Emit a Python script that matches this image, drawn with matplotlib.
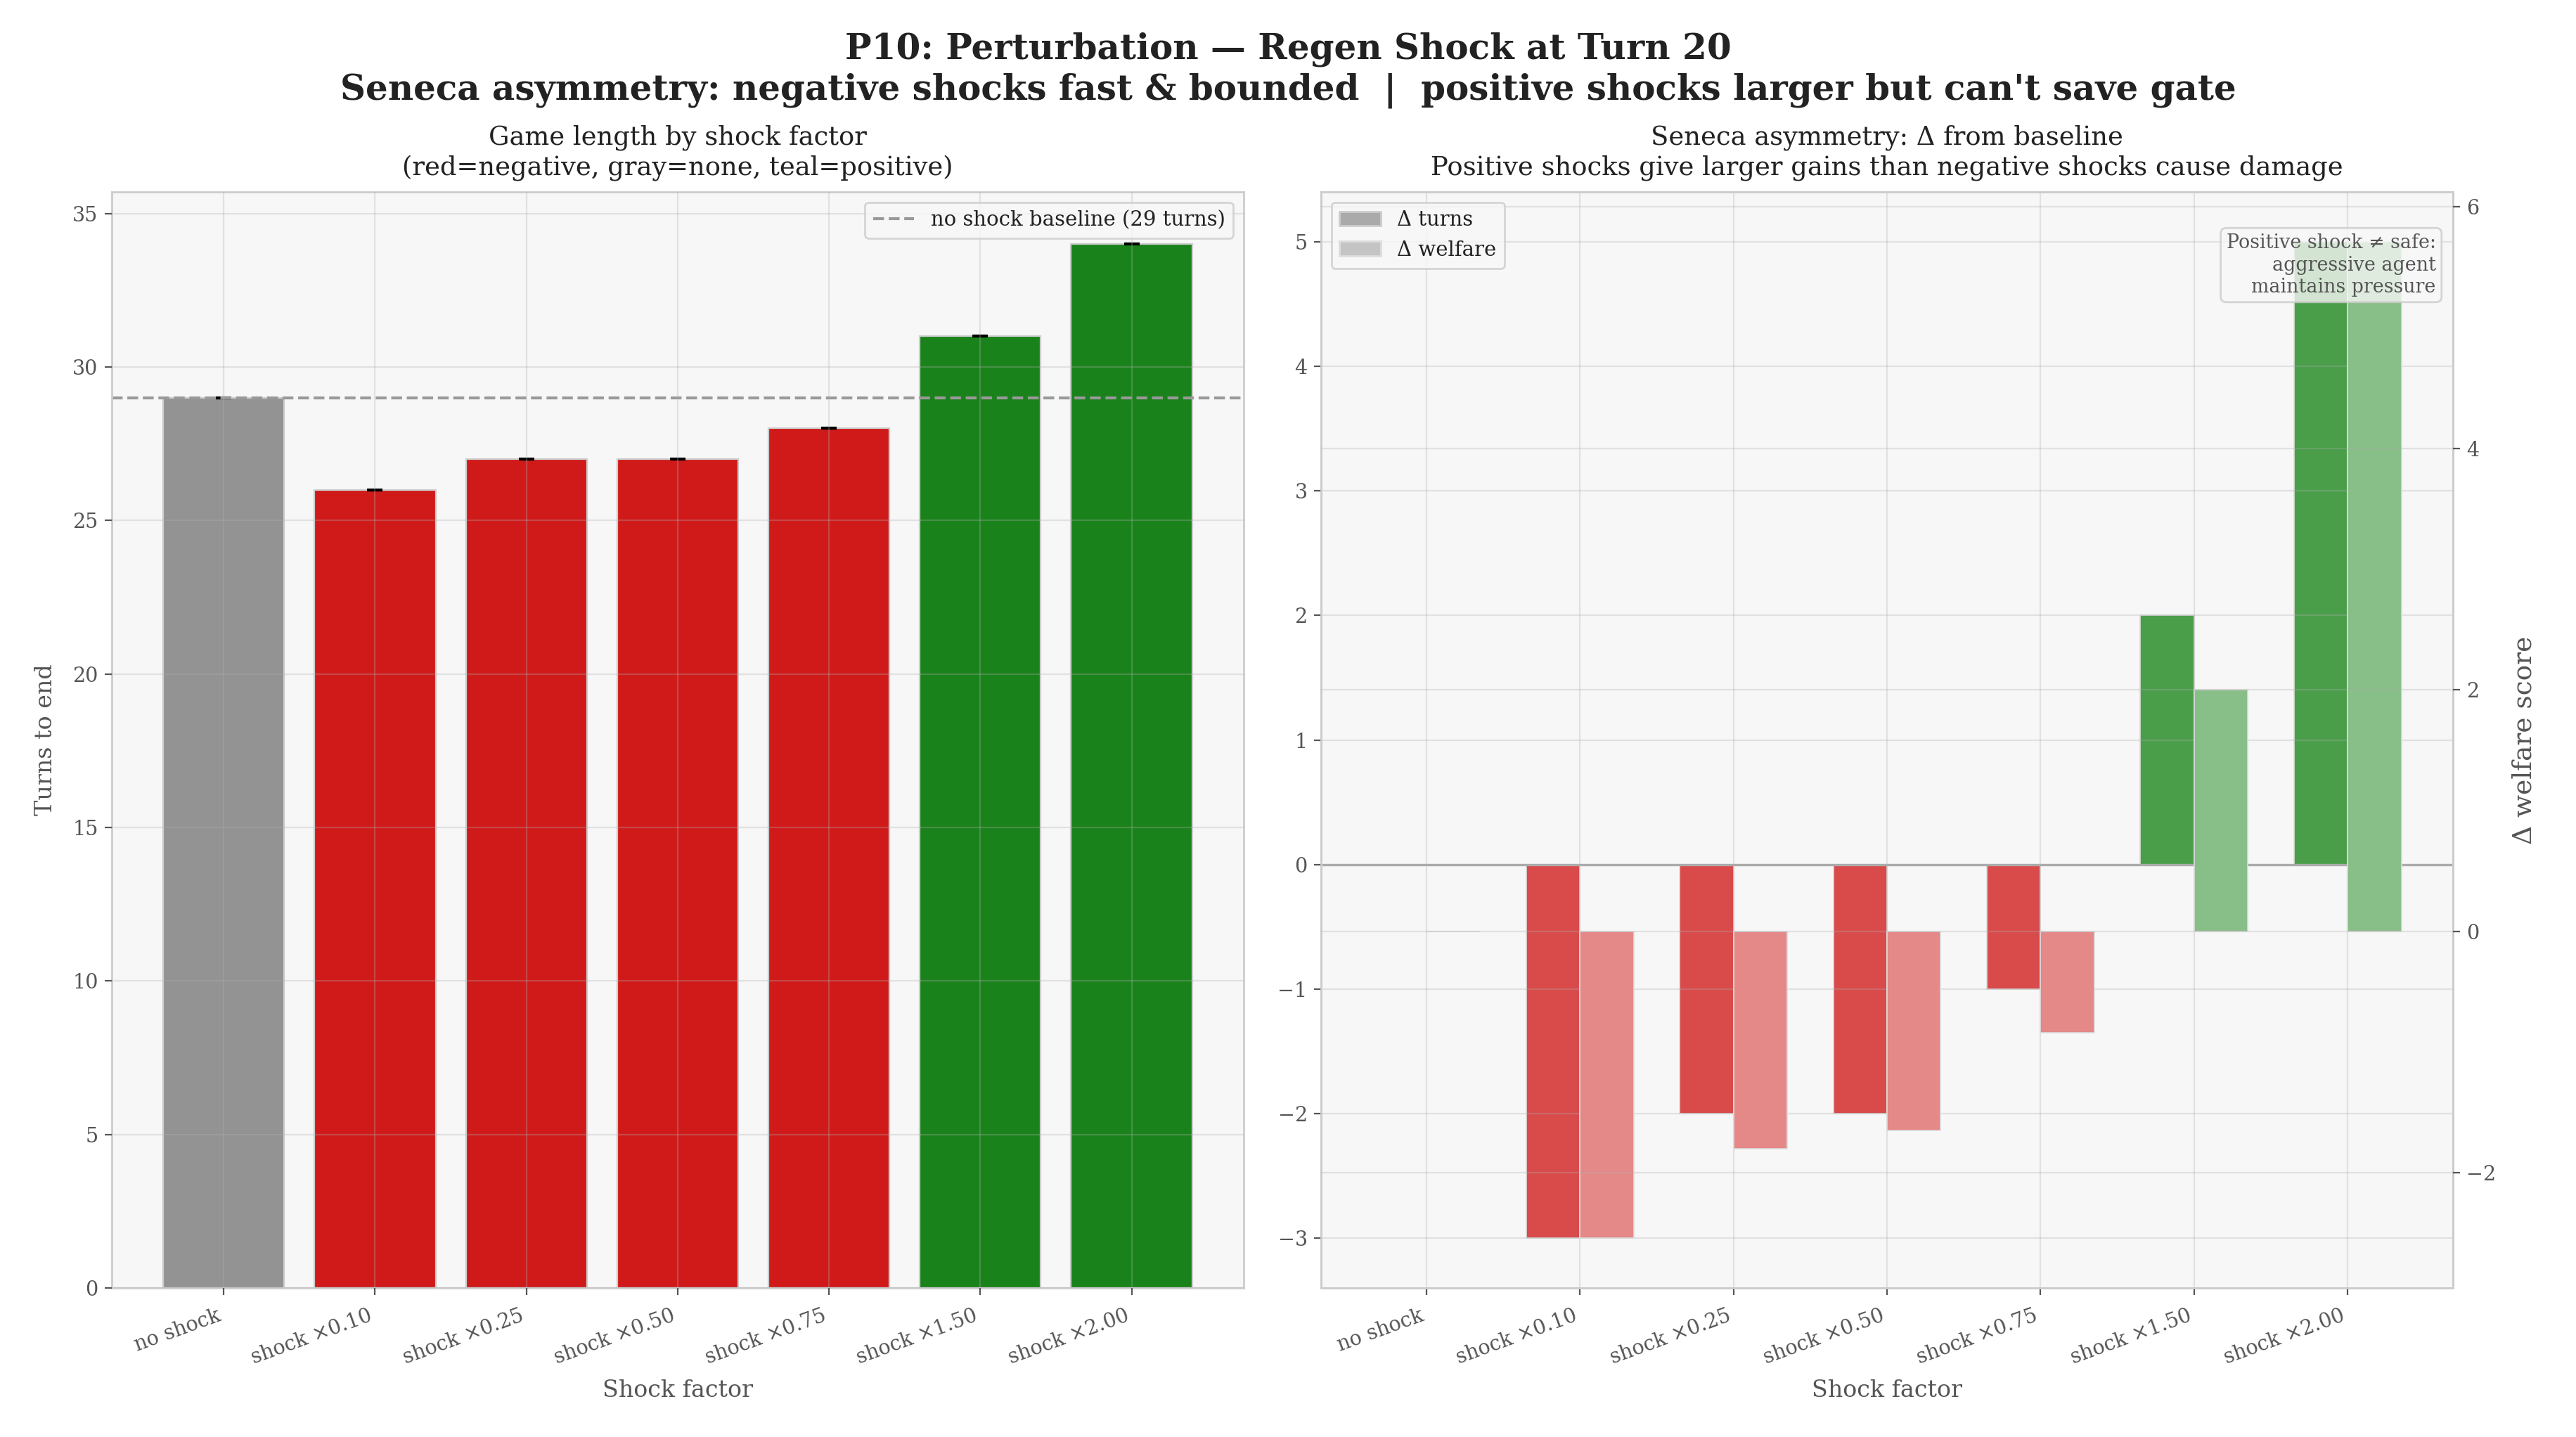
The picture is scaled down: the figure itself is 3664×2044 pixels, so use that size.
import matplotlib
matplotlib.use("Agg")
import matplotlib.pyplot as plt
import numpy as np
from matplotlib.patches import Patch

labels = ["no shock", "shock ×0.10", "shock ×0.25", "shock ×0.50",
          "shock ×0.75", "shock ×1.50", "shock ×2.00"]
turns = [29, 26, 27, 27, 28, 31, 34]
turn_err = [0, 0, 0, 0, 0, 0, 0]
baseline_turns = 29
delta_turns = [0, -3, -2, -2, -1, 2, 5]
delta_welfare = [0.0, -2.54, -1.80, -1.65, -0.84, 2.0, 5.71]
kinds = ["none", "neg", "neg", "neg", "neg", "pos", "pos"]

left_colors = {"none": "#939393", "neg": "#d01a1a", "pos": "#1a821a"}
turn_colors = {"none": "#939393", "neg": "#d94a4a", "pos": "#4a9e4a"}
welf_colors = {"none": "#c4c4c4", "neg": "#e48888", "pos": "#88be88"}

plt.rcParams.update({
    "font.family": "serif",
    "font.serif": ["DejaVu Serif"],
    "axes.facecolor": "#f7f7f7",
    "axes.edgecolor": "#cccccc",
    "axes.linewidth": 1.0,
    "axes.grid": True,
    "axes.axisbelow": False,
    "grid.color": "#b0b0b0",
    "grid.alpha": 0.3,
    "grid.linewidth": 0.8,
    "xtick.color": "#555555",
    "ytick.color": "#555555",
    "xtick.labelcolor": "#555555",
    "ytick.labelcolor": "#555555",
    "xtick.major.pad": 5.5,
    "axes.labelcolor": "#555555",
    "text.color": "#222222",
    "axes.titlecolor": "#222222",
    "axes.titlepad": 9,
})

fig, (ax, ax1) = plt.subplots(1, 2, figsize=(18.32, 10.22), dpi=200)
fig.subplots_adjust(left=0.0434, right=0.9522, bottom=0.1037, top=0.8664, wspace=0.0685)

x = np.arange(len(labels))

# left: game length
ax.bar(x, turns, width=0.8, color=[left_colors[k] for k in kinds],
       edgecolor="#cccccc", linewidth=0.8, yerr=turn_err, capsize=4,
       error_kw={"ecolor": "black", "elinewidth": 1.2, "capthick": 1.5})
ax.axhline(baseline_turns, color="#999999", linestyle="--", linewidth=1.5,
           label=f"no shock baseline ({baseline_turns} turns)")
ax.set_xticks(x)
ax.set_xticklabels(labels, rotation=20, ha="right", fontsize=10.3)
ax.tick_params(axis="y", labelsize=10.3)
ax.set_xlabel("Shock factor", fontsize=12, labelpad=6)
ax.set_ylabel("Turns to end", fontsize=12, labelpad=8)
ax.set_title("Game length by shock factor\n(red=negative, gray=none, teal=positive)",
             fontsize=13.3)
ax.legend(loc="upper right", fontsize=10.5, edgecolor="#cccccc", facecolor="#f7f7f7")

# right: deltas from baseline
w = 0.35
ax1.bar(x - w / 2, delta_turns, w, color=[turn_colors[k] for k in kinds],
        edgecolor="#dddddd", linewidth=0.6)
ax1.axhline(0, color="#aaaaaa", linewidth=1.2)
ax2 = ax1.twinx()
ax2.bar(x + w / 2, delta_welfare, w, color=[welf_colors[k] for k in kinds],
        edgecolor="#dddddd", linewidth=0.6)
ax2.set_ylabel("Δ welfare score", fontsize=13.5, labelpad=8)
ax2.grid(True)
ax2.spines["right"].set_color("#cccccc")
ax2.tick_params(axis="y", labelsize=10.3)
ax1.set_xticks(x)
ax1.set_xticklabels(labels, rotation=20, ha="right", fontsize=10.3)
ax1.tick_params(axis="y", labelsize=10.3)
ax1.set_xlabel("Shock factor", fontsize=12, labelpad=6)
ax1.set_title("Seneca asymmetry: Δ from baseline\n"
              "Positive shocks give larger gains than negative shocks cause damage",
              fontsize=13.3)
handles = [Patch(facecolor="#aaaaaa", edgecolor="#cccccc", label="Δ turns"),
           Patch(facecolor="#c4c4c4", edgecolor="#dddddd", label="Δ welfare")]
ax2.legend(handles=handles, loc="upper left", fontsize=10.5,
           edgecolor="#cccccc", facecolor="#f7f7f7")
ax2.text(0.985, 0.962, "Positive shock ≠ safe:\naggressive agent\nmaintains pressure",
         transform=ax2.transAxes, ha="right", va="top", fontsize=9.7, color="#555555",
         bbox=dict(boxstyle="round", facecolor="#f7f7f7", edgecolor="#cccccc", alpha=0.8))

fig.suptitle("P10: Perturbation — Regen Shock at Turn 20\n"
             "Seneca asymmetry: negative shocks fast & bounded  |  "
             "positive shocks larger but can't save gate",
             fontsize=18, fontweight="bold", y=0.9775)

fig.savefig("out.png", dpi=200)
